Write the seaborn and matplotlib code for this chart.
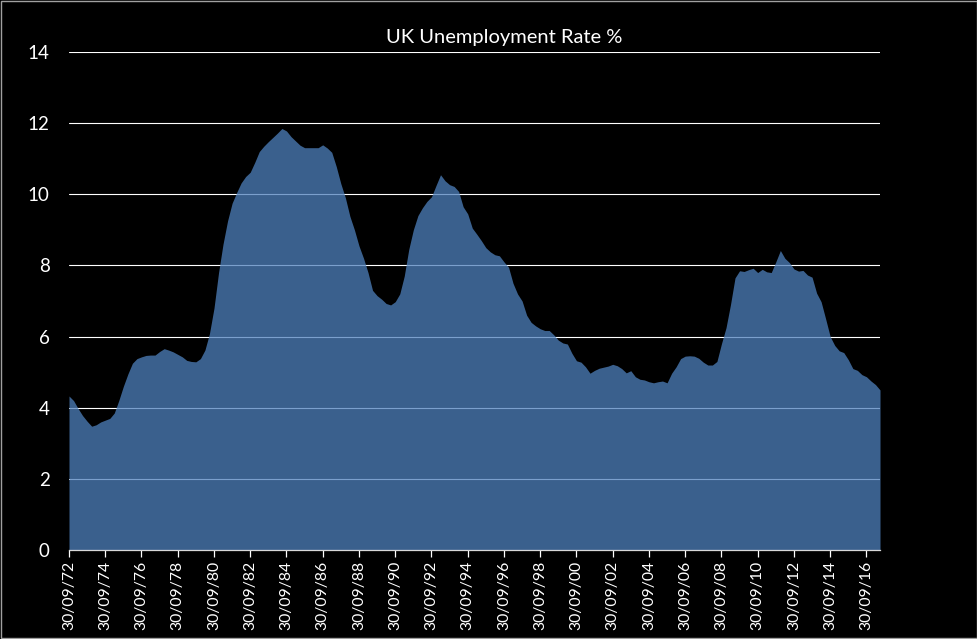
import numpy as np
import pandas as pd
import matplotlib
matplotlib.use("Agg")
import matplotlib.pyplot as plt
import matplotlib.dates as mdates
import seaborn as sns

# quarterly UK unemployment rate, Sep 1972 .. Jun 2017
rate = [
    4.33, 4.2,                      # 1972 Q3-Q4
    3.98, 3.78, 3.62, 3.48,         # 1973
    3.52, 3.6, 3.65, 3.7,           # 1974
    3.85, 4.2, 4.6, 4.95,           # 1975
    5.25, 5.38, 5.43, 5.47,         # 1976
    5.48, 5.48, 5.58, 5.66,         # 1977
    5.62, 5.57, 5.5, 5.43,          # 1978
    5.33, 5.3, 5.29, 5.38,          # 1979
    5.62, 6.08, 6.8, 7.8,           # 1980
    8.6, 9.25, 9.75, 10.05,         # 1981
    10.32, 10.5, 10.62, 10.9,       # 1982
    11.2, 11.35, 11.48, 11.6,       # 1983
    11.72, 11.85, 11.78, 11.62,     # 1984
    11.5, 11.38, 11.31, 11.31,      # 1985
    11.31, 11.31, 11.39, 11.3,      # 1986
    11.18, 10.78, 10.3, 9.9,        # 1987
    9.38, 9.0, 8.55, 8.2,           # 1988
    7.8, 7.3, 7.15, 7.05,           # 1989
    6.93, 6.89, 6.98, 7.2,          # 1990
    7.7, 8.45, 9.0, 9.4,            # 1991
    9.62, 9.8, 9.93, 10.25,         # 1992
    10.55, 10.38, 10.27, 10.22,     # 1993
    10.08, 9.65, 9.45, 9.05,        # 1994
    8.88, 8.7, 8.5, 8.38,           # 1995
    8.3, 8.27, 8.1, 7.95,           # 1996
    7.5, 7.2, 7.0, 6.6,             # 1997
    6.4, 6.3, 6.22, 6.17,           # 1998
    6.17, 6.05, 5.9, 5.82,          # 1999
    5.79, 5.53, 5.32, 5.28,         # 2000
    5.15, 4.97, 5.05, 5.11,         # 2001
    5.14, 5.17, 5.22, 5.18,         # 2002
    5.1, 4.98, 5.04, 4.87,          # 2003
    4.8, 4.78, 4.73, 4.7,           # 2004
    4.73, 4.75, 4.7, 4.97,          # 2005
    5.15, 5.38, 5.45, 5.46,         # 2006
    5.45, 5.39, 5.28, 5.2,          # 2007
    5.2, 5.3, 5.8, 6.25,            # 2008
    6.9, 7.65, 7.85, 7.83,          # 2009
    7.88, 7.92, 7.8, 7.89,          # 2010
    7.82, 7.8, 8.1, 8.42,           # 2011
    8.2, 8.08, 7.9, 7.84,           # 2012
    7.86, 7.73, 7.67, 7.22,         # 2013
    6.98, 6.5, 6.0, 5.75,           # 2014
    5.6, 5.55, 5.35, 5.1,           # 2015
    5.05, 4.93, 4.87, 4.75,         # 2016
    4.65, 4.5,                      # 2017 Q1-Q2
]
dates = pd.date_range("1972-09-30", periods=len(rate), freq="QE")
tick_dates = pd.date_range("1972-09-30", "2016-09-30", freq="24ME")
y_ticks = [0, 2, 4, 6, 8, 10, 12, 14]

df = pd.DataFrame({"date": dates, "rate": rate})

sns.set_style("dark")
plt.rcParams["font.family"] = ["Lato", "DejaVu Sans"]

fig = plt.figure(figsize=(9.78, 6.39), dpi=100, facecolor="black")
ax = fig.add_axes([69/978, 89/639, 811/978, 498/639])
ax.set_facecolor("black")

ax.set_axisbelow(True)
ax.grid(axis="y", color="white", linewidth=0.8)
ax.grid(axis="x", visible=False)

sns.lineplot(data=df, x="date", y="rate", ax=ax, color="#4F81BD", alpha=0.75, linewidth=0)
ax.fill_between(df["date"], 0, df["rate"], color="#4F81BD", alpha=0.75, linewidth=0, zorder=2)

ax.set_xlim(dates[0], dates[-1])
ax.set_ylim(0, 14)
ax.set_yticks(y_ticks)
ax.set_xticks(tick_dates)
ax.xaxis.set_major_formatter(mdates.DateFormatter("%d/%m/%y"))
ax.tick_params(axis="x", colors="white", labelsize=11.3, rotation=90, length=5, width=0.9,
               direction="out", pad=3, bottom=True)
ax.tick_params(axis="y", colors="white", labelsize=13.5, length=0, pad=14)
ax.set_xlabel("")
ax.set_ylabel("")

for s in ["left", "right", "top"]:
    ax.spines[s].set_visible(False)
ax.spines["bottom"].set_color("#d9d9d9")
ax.spines["bottom"].set_linewidth(0.9)

fig.text(504/978, 1 - 38/639, "UK Unemployment Rate %", color="white", fontsize=14.5,
         ha="center", va="center")

# light chart border
fig.patches.append(plt.Rectangle((0.001, 0.001), 0.998, 0.997, transform=fig.transFigure,
                                 fill=False, edgecolor="#a0a0a0", linewidth=1))

fig.savefig("out.png", dpi=100, facecolor="black")
